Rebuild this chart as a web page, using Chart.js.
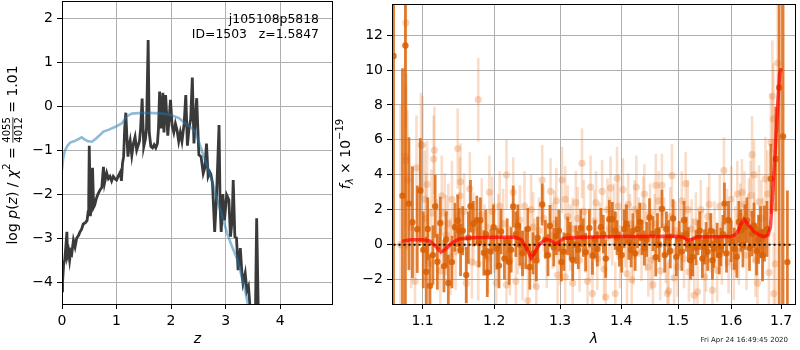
<!DOCTYPE html>
<html lang="en">
<head>
<meta charset="UTF-8">
<title>j105108p5818 ID=1503</title>
<script src="https://cdn.jsdelivr.net/npm/chart.js"></script>
<style>
  body { margin: 0; background: #fff; }
  #wrap { position: relative; width: 800px; height: 350px; }
  canvas { position: absolute; top: 0; }
  #pz { left: 0; }
  #spec { left: 335px; }
</style>
</head>
<body>
<div id="wrap">
  <canvas id="pz" width="335" height="350"></canvas>
  <canvas id="spec" width="465" height="350"></canvas>
</div>
<script>
// ---- left panel: log p(z) ----
const pzZ = [
  0.00, 0.01, 0.03, 0.05, 0.07, 0.09, 0.10, 0.12, 0.14, 0.16,
  0.18, 0.21, 0.24, 0.27, 0.30, 0.33, 0.36, 0.39, 0.43, 0.46,
  0.48, 0.49, 0.50, 0.52, 0.54, 0.56, 0.58, 0.60, 0.63, 0.66,
  0.70, 0.73, 0.76, 0.78, 0.82, 0.85, 0.88, 0.91, 0.94, 0.97,
  1.00, 1.03, 1.07, 1.09, 1.11, 1.13, 1.15, 1.17, 1.19, 1.21,
  1.23, 1.25, 1.28, 1.31, 1.34, 1.37, 1.39, 1.42, 1.44, 1.47,
  1.49, 1.50, 1.53, 1.55, 1.58, 1.60, 1.63, 1.66, 1.69, 1.72,
  1.75, 1.77, 1.79, 1.82, 1.85, 1.87, 1.90, 1.94, 1.97, 1.99,
  2.02, 2.05, 2.08, 2.11, 2.14, 2.17, 2.20, 2.24, 2.27, 2.30,
  2.33, 2.36, 2.39, 2.42, 2.44, 2.47, 2.51, 2.55, 2.59, 2.62,
  2.65, 2.68, 2.71, 2.73, 2.76, 2.80, 2.83, 2.85, 2.88, 2.90,
  2.92, 2.95, 2.98, 3.02, 3.06, 3.09, 3.12, 3.14, 3.17, 3.20,
  3.23, 3.27, 3.30, 3.32, 3.36, 3.39, 3.42, 3.45, 3.50, 3.55,
  3.57, 3.60, 3.65
];
const pzLog = [
  -4.2, -4.0, -3.6, -3.5, -3.2, -2.86, -3.4, -3.3, -3.5, -3.3,
  -3.35, -3.05, -3.2, -3.0, -2.95, -2.86, -2.8, -2.68, -2.65, -2.6,
  -2.4, -2.1, -0.9, -2.5, -2.2, -1.4, -2.3, -2.25, -2.1, -2.0,
  -1.9, -1.85, -1.38, -1.75, -1.52, -1.65, -1.6, -1.7, -1.6, -1.65,
  -1.68, -1.6, -1.5, -1.7, -1.3, -1.15, -0.5, -0.15, -0.7, -1.15,
  -0.9, -0.78, -1.12, -0.85, -0.7, -1.0, -0.92, -0.8, -0.54, 0.17,
  -0.6, -0.92, -0.75, -0.5, 1.5, -0.6, -0.92, -0.95, -0.88, -0.95,
  -0.85, -0.5, 0.33, -0.51, 0.3, -0.6, 0.25, -0.67, -0.2, 0.14,
  -0.45, -0.6, -0.4, -0.55, -0.8, -0.6, -0.8, -0.4, 0.25, -0.9,
  -0.5, -0.3, 0.65, -0.85, -0.4, 0.18, -1.11, -1.15, -1.53, -1.4,
  -0.85, -1.6, -1.5, -1.55, -1.75, -2.86, -2.15, -1.5, -0.43, -2.3,
  -2.86, -2.0, -2.6, -2.02, -2.13, -2.97, -2.6, -1.68, -2.97, -3.0,
  -3.73, -3.23, -3.8, -4.03, -3.8, -4.2, -4.1, -4.6, -4.7, -4.5,
  -2.55, -4.7, -5.0
];
const priorZ = [0.00, 0.02, 0.05, 0.10, 0.15, 0.22, 0.30, 0.36, 0.42, 0.48, 0.55, 0.62, 0.70, 0.76, 0.85, 0.98,
  1.10, 1.19, 1.28, 1.40, 1.55, 1.69, 1.85, 1.99, 2.14, 2.30, 2.38, 2.45, 2.54, 2.60, 2.66, 2.75,
  2.85, 2.95, 3.03, 3.12, 3.22, 3.30, 3.36, 3.40, 3.45];
const priorLog = [-1.45, -1.2, -1.02, -0.9, -0.83, -0.8, -0.75, -0.71, -0.76, -0.8, -0.81, -0.74, -0.65, -0.58, -0.54, -0.47,
  -0.39, -0.23, -0.17, -0.16, -0.15, -0.16, -0.17, -0.2, -0.27, -0.43, -0.5, -0.6, -0.92, -1.15, -1.34, -1.7,
  -2.15, -2.55, -2.9, -3.2, -3.5, -3.9, -4.2, -4.45, -4.7];
const zTicks = [0, 1, 2, 3, 4];
const logTicks = [-4, -3, -2, -1, 0, 1, 2];

// ---- right panel: spectrum ----
const darkWave = [
  1.062, 1.0736, 1.0774, 1.082, 1.0867, 1.093, 1.097, 1.101, 1.105, 1.110,
  1.117, 1.120, 1.124, 1.129, 1.135, 1.140, 1.144, 1.148, 1.150, 1.155,
  1.160, 1.166, 1.170, 1.175, 1.180, 1.185, 1.190, 1.195, 1.204, 1.210,
  1.215, 1.222, 1.228, 1.232, 1.238, 1.242, 1.247, 1.253, 1.258, 1.265,
  1.272, 1.277, 1.284, 1.290, 1.298, 1.306, 1.312, 1.320, 1.325, 1.333,
  1.341, 1.347, 1.352, 1.360, 1.366, 1.374, 1.380, 1.385, 1.390, 1.397,
  1.405, 1.413, 1.420, 1.428, 1.436, 1.444, 1.449, 1.455, 1.460, 1.466,
  1.471, 1.479, 1.486, 1.491, 1.497, 1.502, 1.511, 1.519, 1.527, 1.533,
  1.540, 1.549, 1.555, 1.561, 1.567, 1.573, 1.580, 1.587, 1.595, 1.606,
  1.615, 1.623, 1.631, 1.641, 1.650, 1.658, 1.666, 1.679, 1.689, 1.696,
  1.704, 1.713,
  1.107, 1.114, 1.132, 1.152, 1.163, 1.178, 1.188, 1.199, 1.207, 1.219,
  1.225, 1.235, 1.250, 1.263, 1.281, 1.294, 1.302, 1.316, 1.329, 1.337,
  1.356, 1.370, 1.393, 1.401, 1.409, 1.417, 1.424, 1.432, 1.440, 1.463,
  1.476, 1.483, 1.507, 1.515, 1.523, 1.537, 1.545, 1.552, 1.564, 1.577,
  1.584, 1.591, 1.600, 1.611, 1.619, 1.627, 1.636, 1.645, 1.654, 1.662,
  1.671
];
const darkFlux = [
  10.8, 2.8, 11.4, 2.35, 1.28, 0.88, 3.1, -0.3, -1.55, -2.36,
  2.2, -0.98, 1.24, -1.23, -2.2, -1.0, 1.0, 1.37, 0.8, 0.8,
  -1.74, 2.2, 1.2, 1.4, 1.4, -0.47, -1.6, -0.4, -0.23, 0.75,
  -0.8, -1.0, 2.18, 0.6, 0.0, -0.5, -0.2, -1.28, -0.5, 0.4,
  2.3, 0.3, 1.07, -0.15, 0.8, -0.4, 0.5, -0.87, 0.0, 0.95,
  -0.43, 0.95, -0.62, -0.25, 1.0, -0.8, 1.45, 1.45, 0.8, -0.25,
  0.9, 0.13, 0.8, 0.9, 0.4, 0.3, 1.55, 0.63, -0.72, 0.0,
  2.05, 0.9, -0.36, 1.5, -0.7, 0.35, 1.4, 0.0, -0.7, -0.17,
  0.8, -0.13, -0.4, 0.8, -0.23, 0.25, -0.13, 2.35, 1.4, -0.23,
  1.3, 0.0, 1.4, 0.63, -0.36, 0.72, 0.63, 3.77, 4.9, 9.0,
  6.2, -1.0,
  0.9, -0.6, 0.3, -0.3, 0.4, 0.1, 0.6, 1.0, -1.2, 0.2,
  -0.3, 1.1, 0.9, -0.9, -0.6, 0.5, -1.0, 0.2, -0.3, 0.4,
  0.3, 0.6, 0.4, -0.6, 1.2, -0.3, -0.5, 1.3, -0.2, 0.8,
  -0.6, 0.4, -0.4, 0.6, -0.9, 0.4, -0.8, 0.3, -0.9, -0.6,
  0.6, -0.5, 0.2, -0.7, 0.8, 1.0, -0.2, 1.1, 0.3, -0.6,
  0.9
];
const darkErr = [
  20, 7.3, 20, 3.8, 3.2, 2.5, 3.0, 2.2, 2.0, 1.8,
  1.8, 1.6, 1.5, 1.5, 1.6, 1.5, 1.4, 1.5, 1.3, 1.4,
  1.6, 1.5, 1.3, 1.4, 1.3, 1.3, 1.4, 1.3, 1.2, 1.3,
  1.2, 1.3, 1.2, 1.3, 1.2, 1.3, 1.2, 1.3, 1.2, 1.2,
  1.2, 1.1, 1.2, 1.1, 1.2, 1.1, 1.1, 1.2, 1.1, 1.1,
  1.1, 1.1, 1.1, 1.0, 1.1, 1.1, 1.1, 1.0, 1.1, 1.0,
  1.1, 1.0, 1.0, 1.1, 1.0, 1.0, 1.1, 1.0, 1.1, 1.0,
  1.1, 1.0, 1.0, 1.1, 1.1, 1.0, 1.1, 1.0, 1.1, 1.0,
  1.1, 1.0, 1.1, 1.0, 1.1, 1.0, 1.1, 1.2, 1.1, 1.2,
  1.2, 1.3, 1.3, 1.3, 1.4, 1.5, 1.6, 2.0, 3.0, 20,
  20, 4.1,
  1.8, 1.7, 1.6, 1.5, 1.5, 1.4, 1.4, 1.3, 1.3, 1.3,
  1.3, 1.2, 1.2, 1.2, 1.2, 1.1, 1.1, 1.1, 1.1, 1.1,
  1.1, 1.1, 1.0, 1.0, 1.1, 1.0, 1.0, 1.1, 1.0, 1.0,
  1.0, 1.0, 1.1, 1.0, 1.1, 1.0, 1.1, 1.0, 1.1, 1.1,
  1.1, 1.1, 1.2, 1.2, 1.2, 1.3, 1.3, 1.3, 1.4, 1.5,
  1.6
];
const lightWave = [
  1.071, 1.078, 1.078, 1.0785, 1.080, 1.085, 1.090, 1.092, 1.098, 1.100,
  1.103, 1.105, 1.106, 1.108, 1.115, 1.116, 1.120, 1.126, 1.130, 1.132,
  1.138, 1.140, 1.148, 1.151, 1.152, 1.160, 1.165, 1.170, 1.177, 1.177,
  1.186, 1.193, 1.200, 1.203, 1.208, 1.213, 1.218, 1.218, 1.228, 1.232,
  1.238, 1.245, 1.250, 1.258, 1.260, 1.263, 1.272, 1.274, 1.285, 1.288,
  1.294, 1.296, 1.303, 1.308, 1.308, 1.312, 1.320, 1.320, 1.325, 1.328,
  1.335, 1.340, 1.344, 1.349, 1.352, 1.355, 1.360, 1.368, 1.374, 1.377,
  1.382, 1.385, 1.390, 1.393, 1.395, 1.403, 1.410, 1.415, 1.418, 1.423,
  1.426, 1.435, 1.440, 1.447, 1.450, 1.455, 1.460, 1.468, 1.471, 1.475,
  1.481, 1.483, 1.489, 1.495, 1.499, 1.507, 1.514, 1.520, 1.525, 1.530,
  1.536, 1.542, 1.549, 1.555, 1.560, 1.564, 1.573, 1.578, 1.586, 1.590,
  1.595, 1.605, 1.612, 1.615, 1.621, 1.626, 1.635, 1.641, 1.645, 1.645,
  1.652, 1.655, 1.660, 1.668, 1.672, 1.679, 1.682, 1.684, 1.685, 1.688,
  1.693,
  1.112, 1.124, 1.135, 1.145, 1.157, 1.168, 1.182, 1.191, 1.197, 1.206,
  1.223, 1.235, 1.242, 1.255, 1.267, 1.279, 1.291, 1.300, 1.316, 1.331,
  1.338, 1.347, 1.358, 1.364, 1.371, 1.380, 1.388, 1.398, 1.407, 1.412,
  1.421, 1.430, 1.438, 1.443, 1.452, 1.458, 1.465, 1.478, 1.486, 1.493,
  1.503, 1.511, 1.518, 1.527, 1.533, 1.545, 1.552, 1.558, 1.568, 1.582,
  1.592, 1.600, 1.608, 1.618, 1.630, 1.638, 1.648, 1.663, 1.675
];
const lightFlux = [
  0.0, 12.7, 5.05, 4.8, 3.7, 1.0, -2.1, 4.4, 5.7, 5.7,
  2.6, 1.5, 3.45, -1.1, 4.9, 5.4, 0.3, 2.8, 1.8, 0.55,
  -0.7, 2.6, 5.5, 2.8, 3.6, -2.2, 3.2, 0.9, -1.1, 8.3,
  0.3, 3.0, 0.4, -2.2, 2.2, 1.2, 4.0, -2.3, 3.0, -2.1,
  1.4, 2.2, -3.2, 1.0, -0.5, -2.4, 3.7, 1.5, 3.05, 0.5,
  2.5, -1.75, 3.7, 2.6, -1.85, 1.6, -2.2, 0.9, 2.4, 1.5,
  4.66, 0.2, -2.1, 3.3, -2.8, 1.35, -0.8, 3.05, -3.0, 2.0,
  3.25, 0.6, -2.8, 3.8, 2.2, 3.15, -1.66, 1.2, -2.0, 2.0,
  3.3, -0.4, 2.9, -1.28, 1.8, -2.3, 3.4, -1.5, 3.4, 1.0,
  -2.8, -2.65, 3.95, 0.8, -1.28, 2.5, 3.5, -1.56, 0.9, -2.9,
  -2.7, 2.0, -1.85, 1.6, 0.1, -2.6, -1.47, 2.2, 4.25, 0.5,
  -1.0, -1.28, 2.9, -0.4, 3.0, 2.3, 1.8, 5.15, 4.0, 1.0,
  -2.2, 2.45, 1.5, 3.77, 2.9, 5.85, 8.5, 7.2, -2.8, -1.1,
  10.4,
  1.8, -1.5, 1.2, -0.4, 1.9, -1.0, 1.7, -0.8, 1.9, 0.9,
  -0.9, 0.3, -1.2, 2.0, 0.8, -0.6, 1.2, -0.4, 0.4, -0.9,
  1.9, -0.3, 2.4, 0.6, -1.4, 0.9, 1.7, -0.7, 0.5, 2.3,
  -0.6, 1.0, 2.2, 0.2, -0.9, 1.2, 2.5, -0.5, 1.6, -1.9,
  0.6, -0.8, 2.0, -0.2, 1.3, 0.2, -0.9, 2.3, 0.7, -0.5,
  1.4, 2.6, 0.3, 1.6, -0.6, 2.8, -0.9, 0.4, -1.6
];
const lightErr = [
  8, 6, 4, 5, 4, 3.5, 3, 3, 3, 2.8,
  2.8, 2.6, 2.5, 2.5, 2.5, 2.5, 2.3, 2.3, 2.3, 2.3,
  2.2, 2.2, 2.3, 2.2, 2.2, 2.2, 2.1, 2.1, 2.1, 2.4,
  2.0, 2.1, 2.0, 2.0, 2.0, 2.0, 2.0, 2.0, 2.0, 2.0,
  2.0, 2.0, 2.0, 2.0, 2.0, 2.0, 2.0, 1.9, 1.9, 1.9,
  1.9, 1.9, 1.9, 1.9, 1.9, 1.8, 1.9, 1.8, 1.8, 1.8,
  2.0, 1.8, 1.8, 1.8, 1.8, 1.8, 1.8, 1.8, 1.8, 1.8,
  1.8, 1.8, 1.8, 1.8, 1.8, 1.8, 1.8, 1.7, 1.8, 1.7,
  1.8, 1.7, 1.7, 1.7, 1.7, 1.7, 1.8, 1.7, 1.8, 1.7,
  1.8, 1.8, 1.8, 1.7, 1.7, 1.7, 1.8, 1.7, 1.7, 1.8,
  1.8, 1.7, 1.8, 1.7, 1.7, 1.8, 1.8, 1.8, 1.9, 1.8,
  1.8, 1.9, 1.9, 1.9, 1.9, 1.9, 2.0, 2.2, 2.0, 2.0,
  2.1, 2.1, 2.2, 2.4, 2.5, 2.8, 3.2, 3.2, 3.5, 3.5,
  4,
  2.5, 2.4, 2.3, 2.2, 2.2, 2.1, 2.1, 2.0, 2.0, 2.0,
  2.0, 2.0, 2.0, 2.0, 1.9, 1.9, 1.9, 1.9, 1.9, 1.8,
  1.8, 1.8, 1.8, 1.8, 1.8, 1.8, 1.8, 1.8, 1.8, 1.8,
  1.7, 1.7, 1.7, 1.7, 1.7, 1.7, 1.7, 1.7, 1.7, 1.7,
  1.7, 1.7, 1.7, 1.7, 1.7, 1.8, 1.8, 1.8, 1.8, 1.8,
  1.8, 1.9, 1.9, 1.9, 2.0, 2.0, 2.1, 2.3, 2.5
];
const modelWave = [1.073, 1.085, 1.100, 1.110, 1.118, 1.125, 1.130, 1.140, 1.150, 1.170, 1.200, 1.230, 1.240,
  1.248, 1.255, 1.260, 1.268, 1.278, 1.285, 1.292, 1.297, 1.305, 1.330, 1.400, 1.500, 1.510, 1.518,
  1.525, 1.535, 1.600, 1.610, 1.618, 1.625, 1.632, 1.645, 1.655, 1.665, 1.673, 1.678, 1.683, 1.688,
  1.693, 1.697, 1.700];
const modelFlux = [0.2, 0.28, 0.28, 0.2, -0.1, -0.42, -0.3, 0.1, 0.32, 0.4, 0.42, 0.42, 0.3,
  -0.2, -0.78, -0.5, 0.05, 0.3, 0.25, 0.05, 0.1, 0.35, 0.42, 0.47, 0.48, 0.42, 0.25,
  0.3, 0.45, 0.47, 0.6, 1.1, 1.45, 1.2, 0.75, 0.55, 0.45, 0.55, 1.0, 3.0, 5.5,
  8.0, 9.8, 10.1];
const zeroWave = [1.062, 1.726];
const waveTicks = [1.1, 1.2, 1.3, 1.4, 1.5, 1.6, 1.7];
const fluxTicks = [-2, 0, 2, 4, 6, 8, 10, 12];

Chart.defaults.font.family = 'DejaVu Sans';
Chart.defaults.color = '#000';

const minus = s => String(s).replace('-', '\u2212');
const pts = (xs, ys) => xs.map((x, i) => ({ x: x, y: ys[i] }));

// vertical error bars drawn under each point dataset that carries `errors`
const errorBars = {
  id: 'errorBars',
  beforeDatasetDraw(chart, args) {
    const ds = chart.data.datasets[args.index];
    if (!ds.errors) return;
    const { ctx, chartArea: a, scales } = chart;
    ctx.save();
    ctx.beginPath();
    ctx.rect(a.left, a.top, a.right - a.left, a.bottom - a.top);
    ctx.clip();
    ctx.strokeStyle = ds.errorColor;
    ctx.lineWidth = ds.errorWidth;
    ds.data.forEach((p, i) => {
      const px = scales.x.getPixelForValue(p.x);
      ctx.beginPath();
      ctx.moveTo(px, scales.y.getPixelForValue(p.y - ds.errors[i]));
      ctx.lineTo(px, scales.y.getPixelForValue(p.y + ds.errors[i]));
      ctx.stroke();
    });
    ctx.restore();
  }
};

// full box around the plot, like matplotlib spines
const frame = {
  id: 'frame',
  afterDatasetsDraw(chart) {
    const { ctx, chartArea: a } = chart;
    const l = Math.round(a.left), t = Math.round(a.top), r = Math.round(a.right), b = Math.round(a.bottom);
    ctx.save();
    ctx.strokeStyle = '#000';
    ctx.lineWidth = 1;
    ctx.strokeRect(l + 0.5, t + 0.5, r - l - 1, b - t);
    ctx.restore();
  }
};

// rotated label made of pieces (italics, sub/superscripts, a fraction)
function drawRich(ctx, parts, cx, cy) {
  ctx.save();
  ctx.translate(cx, cy);
  ctx.rotate(-Math.PI / 2);
  ctx.textBaseline = 'middle';
  ctx.fillStyle = '#000';
  let total = 0;
  parts.forEach(p => {
    ctx.font = p.font;
    p.w = p.frac ? Math.max(...p.frac.map(t => ctx.measureText(t).width)) : ctx.measureText(p.text).width;
    total += p.w;
  });
  let x = -total / 2;
  parts.forEach(p => {
    ctx.font = p.font;
    if (p.frac) {
      ctx.textAlign = 'center';
      ctx.fillText(p.frac[0], x + p.w / 2, -6);
      ctx.fillText(p.frac[1], x + p.w / 2, 6);
      ctx.fillRect(x, -0.5, p.w, 0.8);
    } else {
      ctx.textAlign = 'left';
      ctx.fillText(p.text, x, p.dy || 0);
    }
    x += p.w;
  });
  ctx.restore();
}

const F = '14px "DejaVu Sans"';
const FI = 'italic 14px "DejaVu Sans"';
const FS = '10px "DejaVu Sans"';
const FSI = 'italic 10px "DejaVu Sans"';

function axis(type, min, max, ticks, fmt, size, extra) {
  return Object.assign({
    type: type, min: min, max: max,
    afterBuildTicks: s => { s.ticks = ticks.map(v => ({ value: v })); },
    afterFit: s => {
      if (s.isHorizontal()) { s.height = size; s.paddingLeft = 0; s.paddingRight = 0; }
      else { s.width = size; s.paddingTop = 0; s.paddingBottom = 0; }
    },
    grid: { color: '#b0b0b0', lineWidth: 1, tickColor: '#000', tickLength: 5, tickWidth: 1 },
    border: { display: false },
    ticks: { color: '#000', font: { size: 14 }, padding: 4, autoSkip: false, maxRotation: 0, callback: fmt }
  }, extra || {});
}

const pzLabels = {
  id: 'pzLabels',
  afterDraw(chart) {
    const { ctx, chartArea: a } = chart;
    drawRich(ctx, [
      { text: 'log ', font: F }, { text: 'p', font: FI }, { text: '(', font: F }, { text: 'z', font: FI },
      { text: ') / ', font: F }, { text: '\u03c7', font: FI }, { text: '2', font: FS, dy: -6 },
      { text: ' = ', font: F }, { frac: ['4055', '4012'], font: FS }, { text: ' = 1.01', font: F }
    ], 13, 155);
    ctx.save();
    ctx.font = '12.4px "DejaVu Sans"';
    ctx.textAlign = 'right';
    ctx.textBaseline = 'middle';
    ctx.fillStyle = '#000';
    ctx.fillText('j105108p5818', a.right - 14, a.top + 19);
    ctx.fillText('ID=1503   z=1.5847', a.right - 14, a.top + 34);
    ctx.restore();
  }
};

const specLabels = {
  id: 'specLabels',
  afterDraw(chart) {
    const { ctx } = chart;
    drawRich(ctx, [
      { text: 'f', font: FI }, { text: '\u03bb', font: FSI, dy: 4 },
      { text: ' \u00d7 10', font: F }, { text: '\u221219', font: FS, dy: -6 }
    ], 11, 154);
    ctx.save();
    ctx.font = '7px "DejaVu Sans"';
    ctx.textAlign = 'right';
    ctx.textBaseline = 'middle';
    ctx.fillStyle = '#222';
    ctx.fillText('Fri Apr 24 16:49:45 2020', 453, 340);
    ctx.restore();
  }
};

new Chart(document.getElementById('pz'), {
  type: 'scatter',
  data: {
    datasets: [
      { data: pts(priorZ, priorLog), showLine: true, borderColor: 'rgba(31,119,180,0.5)', borderWidth: 2.6, pointRadius: 0, order: 0 },
      { data: pts(pzZ, pzLog), showLine: true, borderColor: '#3a3a3a', borderWidth: 2.8, pointRadius: 0, order: 1 }
    ]
  },
  options: {
    responsive: false, animation: false, devicePixelRatio: 1,
    layout: { padding: { left: 0, right: 2, top: 1, bottom: 0 } },
    plugins: { legend: { display: false }, tooltip: { enabled: false } },
    scales: {
      x: axis('linear', 0, 4.97, zTicks, v => minus(v), 46, {
        title: { display: true, text: 'z', color: '#000', font: { size: 14, style: 'italic' }, padding: { top: 0, bottom: 2 } }
      }),
      y: axis('linear', -4.5, 2.39, logTicks, v => minus(v), 62)
    }
  },
  plugins: [frame, pzLabels]
});

new Chart(document.getElementById('spec'), {
  type: 'scatter',
  data: {
    datasets: [
      { data: pts(modelWave, modelFlux), showLine: true, borderColor: 'rgba(255,0,0,0.7)', borderWidth: 3.5, pointRadius: 0, order: 0 },
      { data: pts(zeroWave, [0, 0]), showLine: true, borderColor: '#000', borderWidth: 2, borderDash: [2, 3], pointRadius: 0, order: 1 },
      { data: pts(darkWave, darkFlux), errors: darkErr, errorColor: 'rgba(217,95,2,0.8)', errorWidth: 2.8,
        backgroundColor: 'rgba(217,95,2,0.85)', borderWidth: 0, pointRadius: 3.2, order: 2 },
      { data: pts(lightWave, lightFlux), errors: lightErr, errorColor: 'rgba(230,120,40,0.25)', errorWidth: 2.6,
        backgroundColor: 'rgba(230,120,40,0.3)', borderWidth: 0, pointRadius: 3.6, order: 3 }
    ]
  },
  options: {
    responsive: false, animation: false, devicePixelRatio: 1,
    layout: { padding: { left: 0, right: 1, top: 1, bottom: 0 } },
    plugins: { legend: { display: false }, tooltip: { enabled: false } },
    scales: {
      x: axis('logarithmic', 1.06, 1.731, waveTicks, v => Number(v).toFixed(1), 46, {
        title: { display: true, text: '\u03bb', color: '#000', font: { size: 14, style: 'italic' }, padding: { top: 0, bottom: 2 } }
      }),
      y: axis('linear', -3.4, 13.78, fluxTicks, v => minus(v), 57)
    }
  },
  plugins: [errorBars, frame, specLabels]
});
</script>
</body>
</html>
